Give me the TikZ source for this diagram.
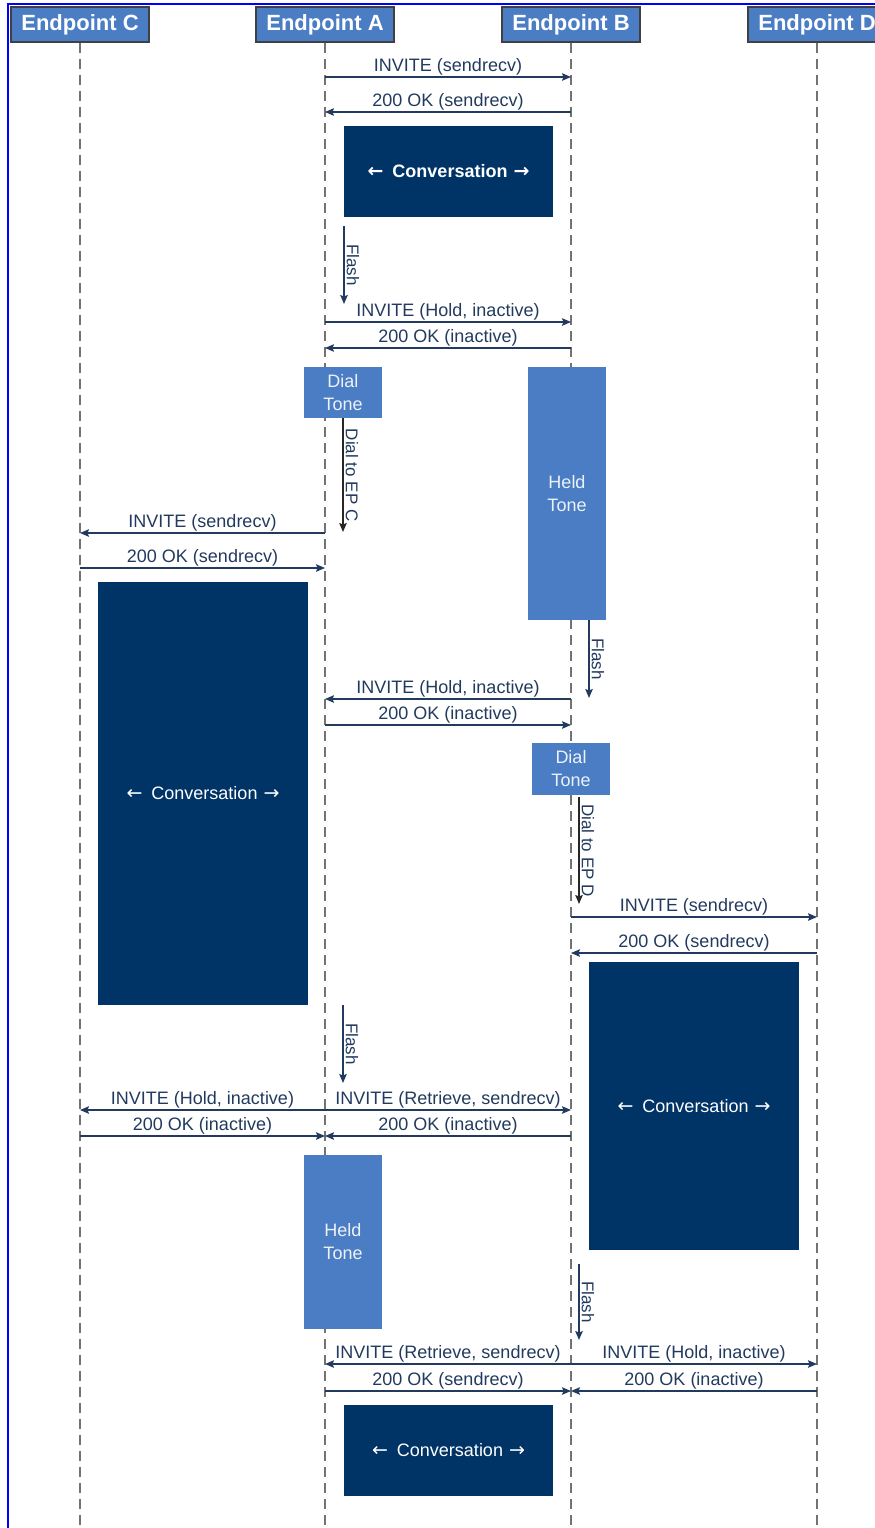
\documentclass[tikz,border=0pt]{standalone}
\usepackage{fontspec}
\setmainfont{Liberation Sans}
\newfontfamily\arrowfont{DejaVu Sans}
\usepackage{tikz}
\usetikzlibrary{arrows.meta}
\definecolor{epblue}{RGB}{74,125,195}
\definecolor{talknavy}{RGB}{0,51,102}
\definecolor{sigline}{RGB}{34,58,94}
\newcommand\talkleft{{\arrowfont\fontsize{19}{20}\selectfont ←}\hspace{9pt}}
\newcommand\talkright{\hspace{6pt}{\arrowfont\fontsize{19}{20}\selectfont →}}
\tikzset{>={Stealth[length=9pt,width=7.5pt,inset=1.5pt]}}
\tikzset{
  endpoint/.style={draw=black!75,line width=1.2pt,fill=epblue,text=white,minimum width=138pt,minimum height=35pt,inner sep=0pt,font=\fontsize{22}{24}\selectfont\bfseries},
  lifeline/.style={draw=black!55,line width=2pt,dash pattern=on 10pt off 6pt},
  sig/.style={->,draw=sigline,line width=1.3pt},
  siglbl/.style={above,inner sep=1pt,text=sigline,font=\fontsize{18}{20}\selectfont},
  tonebox/.style={fill=epblue,text=white!90!epblue,align=center,inner sep=0pt,minimum width=78pt,font=\fontsize{18}{23}\selectfont},
  talkbox/.style={fill=talknavy,text=white,inner sep=0pt,font=\fontsize{18}{20}\selectfont},
  keypress/.style={->,line width=1.3pt},
  keylbl/.style={midway,rotate=-90,anchor=south,inner sep=2pt,text=sigline,font=\fontsize{17}{18}\selectfont}
}

\begin{document}
\begin{tikzpicture}[x=1pt,y=-1pt]
  \useasboundingbox (0,0) rectangle (875,1528);
  % frame
  \draw[blue,line width=1.5pt] (8,1540) -- (8,4) -- (890,4);

  % endpoints and lifelines
  \node[endpoint] at (80,24.5)  (epC) {Endpoint C};
  \node[endpoint] at (325,24.5) (epA) {Endpoint A};
  \node[endpoint] at (571,24.5) (epB) {Endpoint B};
  \node[endpoint] at (817,24.5) (epD) {Endpoint D};
  \foreach \ep in {epC,epA,epB,epD}
    \draw[lifeline] (\ep.south) -- (\ep |- 0,1540);

  % conversations
  \node[talkbox,minimum width=209pt,minimum height=91pt,font=\fontsize{18}{20}\selectfont\bfseries] at (448.5,171.5) (talk1) {\talkleft Conversation\talkright};
  \node[talkbox,minimum width=210pt,minimum height=423pt] at (203,793.5) (talk2) {\talkleft Conversation\talkright};
  \node[talkbox,minimum width=210pt,minimum height=288pt] at (694,1106) (talk3) {\talkleft Conversation\talkright};
  \node[talkbox,minimum width=209pt,minimum height=91pt] at (448.5,1450.5) (talk4) {\talkleft Conversation\talkright};

  % tones
  \node[tonebox,minimum height=51pt] at (343,392.5) (dialA) {Dial\\Tone};
  \node[tonebox,minimum height=253pt] at (567,493.5) (heldB) {Held\\Tone};
  \node[tonebox,minimum height=52pt] at (571,769) (dialB) {Dial\\Tone};
  \node[tonebox,minimum height=174pt] at (343,1242) (heldA) {Held\\Tone};

  % hook flash and dialling
  \draw[keypress,sigline] (344,226) -- node[keylbl]{Flash} (344,304);
  \draw[keypress,black!85] (dialA.south) -- node[keylbl]{Dial to EP C} (343,532);
  \draw[keypress,sigline] (589,620) -- node[keylbl]{Flash} (589,698);
  \draw[keypress,black!85] (579,797) -- node[keylbl]{Dial to EP D} (579,904);
  \draw[keypress,sigline] (343,1005) -- node[keylbl]{Flash} (343,1083);
  \draw[keypress,sigline] (579,1264) -- node[keylbl]{Flash} (579,1340);

  % signalling
  \foreach \src/\dst/\y/\txt in {
      epA/epB/77/{INVITE (sendrecv)},
      epB/epA/112/{200 OK (sendrecv)},
      epA/epB/322/{INVITE (Hold, inactive)},
      epB/epA/348/{200 OK (inactive)},
      epA/epC/533/{INVITE (sendrecv)},
      epC/epA/568/{200 OK (sendrecv)},
      epB/epA/699/{INVITE (Hold, inactive)},
      epA/epB/725/{200 OK (inactive)},
      epB/epD/917/{INVITE (sendrecv)},
      epD/epB/953/{200 OK (sendrecv)},
      epA/epC/1110/{INVITE (Hold, inactive)},
      epA/epB/1110/{INVITE (Retrieve, sendrecv)},
      epC/epA/1136/{200 OK (inactive)},
      epB/epA/1136/{200 OK (inactive)},
      epB/epA/1364/{INVITE (Retrieve, sendrecv)},
      epB/epD/1364/{INVITE (Hold, inactive)},
      epA/epB/1391/{200 OK (sendrecv)},
      epD/epB/1391/{200 OK (inactive)}}
    \draw[sig] (\src |- 0,\y) -- node[siglbl]{\txt} (\dst |- 0,\y);
\end{tikzpicture}
\end{document}
